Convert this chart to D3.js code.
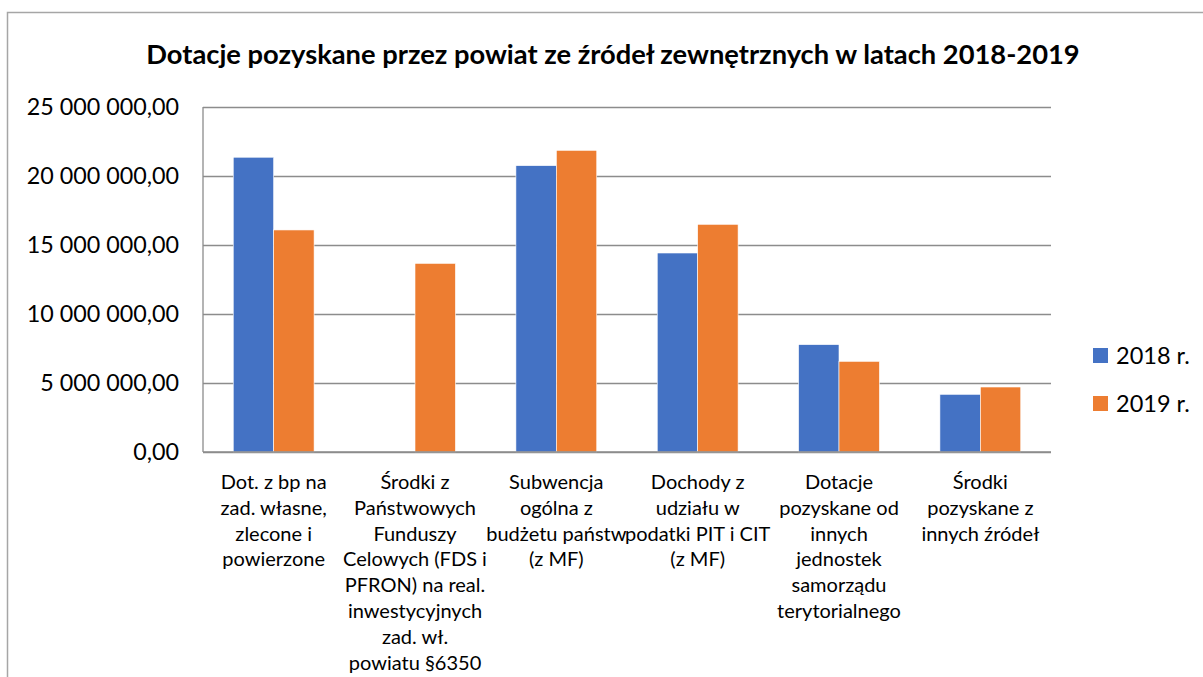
<!DOCTYPE html>
<html>
<head>
<meta charset="utf-8">
<script src="https://cdn.jsdelivr.net/npm/d3@7"></script>
<style>
  body { margin: 0; background: #fff; }
  svg { display: block; font-family: Lato, "Open Sans", sans-serif; }
</style>
</head>
<body>
<svg id="chart"></svg>
<script>
var categories = [
  "Dot. z bp na zad. własne, zlecone i powierzone",
  "Środki z Państwowych Funduszy Celowych (FDS i PFRON) na real. inwestycyjnych zad. wł. powiatu §6350",
  "Subwencja ogólna z budżetu państw (z MF)",
  "Dochody z udziału w podatki PIT i CIT (z MF)",
  "Dotacje pozyskane od innych jednostek samorządu terytorialnego",
  "Środki pozyskane z innych źródeł"
];
var categoryLines = [
  ["Dot. z bp na", "zad. własne,", "zlecone i", "powierzone"],
  ["Środki z", "Państwowych", "Funduszy", "Celowych (FDS i", "PFRON) na real.", "inwestycyjnych", "zad. wł.", "powiatu §6350"],
  ["Subwencja", "ogólna z", "budżetu państw", "(z MF)"],
  ["Dochody z", "udziału w", "podatki PIT i CIT", "(z MF)"],
  ["Dotacje", "pozyskane od", "innych", "jednostek", "samorządu", "terytorialnego"],
  ["Środki", "pozyskane z", "innych źródeł"]
];
var seriesNames = ["2018 r.", "2019 r."];
var values2018 = [21360000, 0, 20750000, 14420000, 7780000, 4180000];
var values2019 = [16090000, 13670000, 21860000, 16500000, 6570000, 4710000];
var yTicks = [0, 5000000, 10000000, 15000000, 20000000, 25000000];
var colors = ["#4472C4", "#ED7D31"];

var width = 1203, height = 677;
var margin = { top: 107, right: 152, bottom: 225, left: 203 };
var w = width - margin.left - margin.right;
var h = height - margin.top - margin.bottom;

var svg = d3.select("#chart").attr("width", width).attr("height", height);

svg.append("rect")
  .attr("x", 7.5).attr("y", 12.5)
  .attr("width", 1300).attr("height", 800)
  .attr("fill", "#fff")
  .attr("stroke", "#a6a6a6")
  .attr("stroke-width", 1.5);

svg.append("text")
  .attr("x", 613)
  .attr("y", 64)
  .attr("text-anchor", "middle")
  .style("font-size", "27.3px")
  .style("font-weight", "bold")
  .text("Dotacje pozyskane przez powiat ze źródeł zewnętrznych w latach 2018-2019");

var data = categories.map(function(c, i) {
  return { cat: c, lines: categoryLines[i], vals: [values2018[i], values2019[i]] };
});

var x = d3.scaleBand()
  .domain(categories)
  .range([0, w])
  .paddingInner(0.428)
  .paddingOuter(0.214);

var x1 = d3.scaleBand()
  .domain(seriesNames)
  .range([0, x.bandwidth()]);

var y = d3.scaleLinear()
  .domain([0, 25000000])
  .range([h, 0]);

var locale = d3.formatLocale({ decimal: ",", thousands: " ", grouping: [3] });
var fmt = locale.format(",.2f");

var group = svg.append("g")
  .attr("transform", "translate(" + margin.left + "," + margin.top + ")");

var yAxis = group.append("g")
  .call(d3.axisLeft(y).tickValues(yTicks).tickSize(-w).tickPadding(24).tickFormat(fmt));
yAxis.select(".domain").remove();
yAxis.selectAll("line").attr("stroke", "#8c8c8c").attr("stroke-width", 1.3);
yAxis.selectAll("text")
  .attr("fill", "#000")
  .style("font-size", "23.3px")
  .style("font-family", "Lato, sans-serif");

group.selectAll(".cat")
  .data(data)
  .enter()
  .append("g")
  .attr("class", "cat")
  .attr("transform", function(d) { return "translate(" + x(d.cat) + ",0)"; })
  .selectAll("rect")
  .data(function(d) { return d.vals.map(function(v, i) { return { s: seriesNames[i], v: v, i: i }; }); })
  .enter()
  .append("rect")
  .attr("x", function(d) { return x1(d.s); })
  .attr("width", x1.bandwidth())
  .attr("y", function(d) { return y(d.v); })
  .attr("height", function(d) { return h - y(d.v); })
  .attr("fill", function(d) { return colors[d.i]; })
  .attr("stroke", function(d) { return d.v > 0 ? "#fff" : "none"; })
  .attr("stroke-width", 0.6);

group.append("line")
  .attr("x1", 0).attr("x2", 0)
  .attr("y1", 0).attr("y2", h)
  .attr("stroke", "#8c8c8c").attr("stroke-width", 1.3);
group.append("line")
  .attr("x1", 0).attr("x2", w)
  .attr("y1", h).attr("y2", h)
  .attr("stroke", "#8c8c8c").attr("stroke-width", 1.3);

var labels = group.selectAll(".lab")
  .data(data)
  .enter()
  .append("text")
  .attr("class", "lab")
  .attr("text-anchor", "middle")
  .style("font-size", "20px")
  .attr("transform", function(d) { return "translate(" + (x(d.cat) + x.bandwidth() / 2) + "," + (h + 37) + ")"; });
labels.selectAll("tspan")
  .data(function(d) { return d.lines; })
  .enter()
  .append("tspan")
  .attr("x", 0)
  .attr("y", function(d, i) { return i * 25.8; })
  .text(function(d) { return d; });

var legend = svg.append("g")
  .attr("transform", "translate(1093,348)");
var items = legend.selectAll("g")
  .data(seriesNames)
  .enter()
  .append("g")
  .attr("transform", function(d, i) { return "translate(0," + i * 48 + ")"; });
items.append("rect")
  .attr("width", 15).attr("height", 15)
  .attr("fill", function(d, i) { return colors[i]; });
items.append("text")
  .attr("x", 23)
  .attr("y", 16)
  .style("font-size", "23.5px")
  .text(function(d) { return d; });
</script>
</body>
</html>
